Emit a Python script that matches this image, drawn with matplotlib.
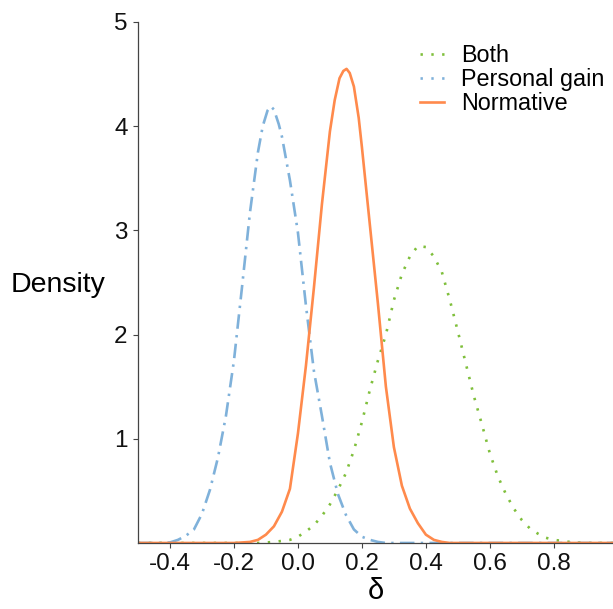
import matplotlib
matplotlib.use("Agg")
import matplotlib.pyplot as plt
from matplotlib.lines import Line2D

plt.rcParams['font.family'] = ['Liberation Sans', 'DejaVu Sans']

# Posterior density of delta for each condition
both_x = [-0.50, -0.15, -0.125, -0.10, -0.075, -0.05, -0.025, 0.00, 0.025, 0.05, 0.075,
          0.10, 0.125, 0.15, 0.175, 0.20, 0.225, 0.25, 0.275, 0.30, 0.325, 0.35,
          0.375, 0.40, 0.425, 0.45, 0.475, 0.50, 0.525, 0.55, 0.575, 0.60, 0.625,
          0.65, 0.675, 0.70, 0.725, 0.75, 0.775, 0.80, 0.825, 0.85, 0.875, 0.90, 1.00]
both_y = [0.0, 0.0, 0.0, 0.005, 0.01, 0.02, 0.03, 0.06, 0.11, 0.17, 0.26,
          0.37, 0.51, 0.67, 0.89, 1.16, 1.47, 1.75, 2.00, 2.33, 2.58, 2.75,
          2.85, 2.84, 2.75, 2.60, 2.33, 2.03, 1.72, 1.41, 1.14, 0.86, 0.64,
          0.47, 0.33, 0.22, 0.14, 0.09, 0.05, 0.03, 0.02, 0.01, 0.005, 0.0, 0.0]

personal_x = [-0.50, -0.45, -0.425, -0.40, -0.375, -0.35, -0.325, -0.30, -0.275, -0.25,
              -0.225, -0.20, -0.175, -0.15, -0.125, -0.11, -0.095, -0.085, -0.075,
              -0.06, -0.05, -0.025, 0.00, 0.025, 0.05, 0.075, 0.10, 0.125, 0.15,
              0.175, 0.20, 0.225, 0.25, 0.275, 1.00]
personal_y = [0.0, 0.0, 0.0, 0.005, 0.03, 0.07, 0.13, 0.28, 0.51, 0.82,
              1.22, 1.75, 2.45, 3.17, 3.75, 4.00, 4.15, 4.19, 4.16,
              4.02, 3.90, 3.48, 2.98, 2.28, 1.65, 1.22, 0.77, 0.47, 0.27,
              0.13, 0.06, 0.03, 0.01, 0.0, 0.0]

normative_x = [-0.50, -0.20, -0.175, -0.15, -0.125, -0.10, -0.075, -0.05, -0.025, 0.00,
               0.025, 0.05, 0.075, 0.10, 0.115, 0.13, 0.142, 0.152, 0.162, 0.175,
               0.19, 0.20, 0.225, 0.25, 0.275, 0.30, 0.325, 0.35, 0.375, 0.40,
               0.425, 0.45, 0.475, 1.00]
normative_y = [0.0, 0.0, 0.005, 0.01, 0.03, 0.08, 0.16, 0.30, 0.52, 1.05,
               1.70, 2.45, 3.25, 3.95, 4.25, 4.46, 4.53, 4.55, 4.51, 4.38,
               4.08, 3.80, 3.05, 2.30, 1.50, 0.92, 0.55, 0.33, 0.19, 0.08,
               0.03, 0.01, 0.0, 0.0]

labels = ["Both", "Personal gain", "Normative"]
colors = ["#7fbf3b", "#7fb1da", "#ff8a4c"]

xticks = [-0.4, -0.2, 0.0, 0.2, 0.4, 0.6, 0.8]
yticks = [1, 2, 3, 4, 5]

fig = plt.figure(figsize=(6.13, 6.09), dpi=100)
ax = fig.add_axes([0.2251, 0.1084, 0.7749, 0.8555])

lw = 1.9
dotted = (0, (0.9, 3.2))
dashdot = (0, (5.5, 2.4, 0.9, 2.4))
ax.plot(both_x, both_y, color=colors[0], lw=lw, linestyle=dotted,
        dash_capstyle='butt', solid_joinstyle='round')
ax.plot(personal_x, personal_y, color=colors[1], lw=lw, linestyle=dashdot,
        dash_capstyle='butt')
ax.plot(normative_x, normative_y, color=colors[2], lw=lw, solid_joinstyle='round')

ax.set_xlim(-0.5, 0.985)
ax.set_ylim(0, 5)
ax.set_xticks(xticks)
ax.set_xticklabels([f"{t:.1f}" for t in xticks])
ax.set_yticks(yticks)

for side in ("top", "right"):
    ax.spines[side].set_visible(False)
for side in ("left", "bottom"):
    ax.spines[side].set_color("#444444")
    ax.spines[side].set_linewidth(0.9)

ax.tick_params(axis="both", direction="out", length=3.5, width=0.8,
               color="#444444", labelsize=17.5, labelcolor="#111111", pad=4)

ax.set_xlabel("δ", fontsize=21, labelpad=1)
ax.set_ylabel("Density", fontsize=20.5, rotation=0, ha="right", va="center")
ax.yaxis.set_label_coords(-0.068, 0.495)

handles = [
    Line2D([], [], color=colors[0], lw=lw, linestyle=dotted, dash_capstyle='butt'),
    Line2D([], [], color=colors[1], lw=lw, linestyle=dotted, dash_capstyle='butt'),
    Line2D([], [], color=colors[2], lw=lw),
]
leg = ax.legend(handles, labels, loc="upper right", bbox_to_anchor=(1.012, 0.985),
                frameon=False, fontsize=16.8, handlelength=1.0, handletextpad=0.75,
                labelspacing=0.05, borderaxespad=0.2)

fig.savefig("out.png", dpi=100)
